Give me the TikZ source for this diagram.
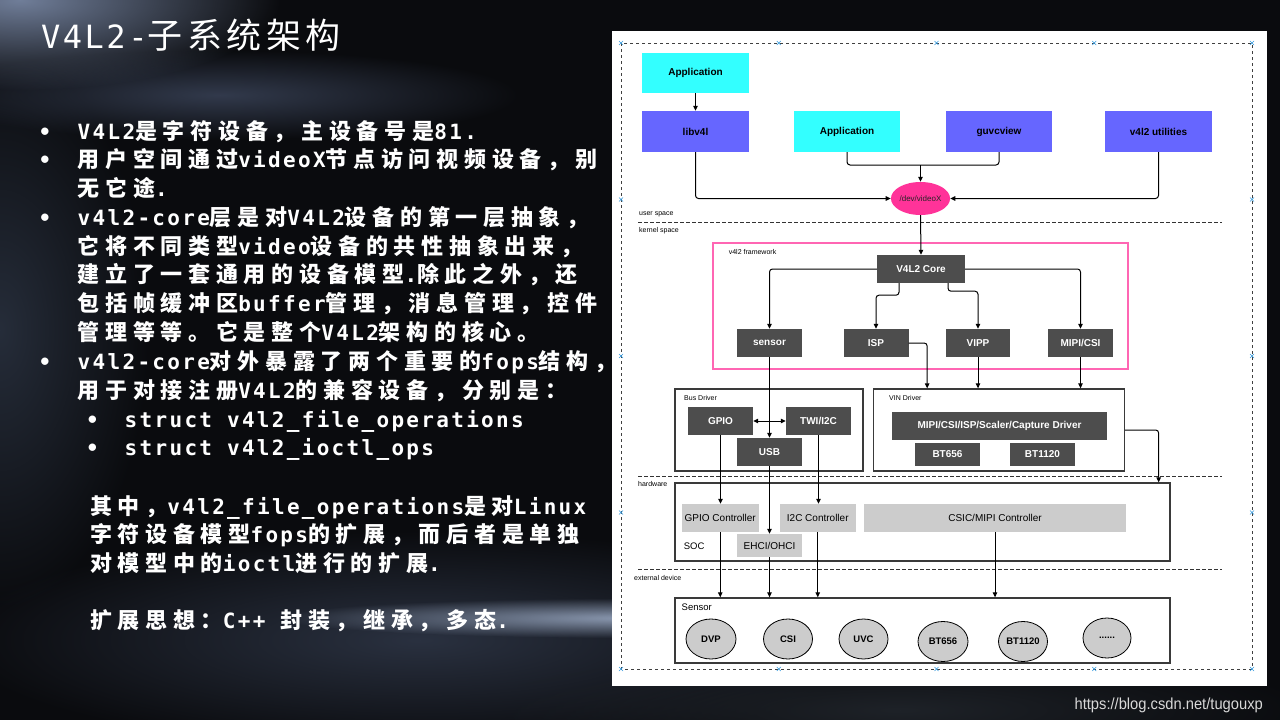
\documentclass[tikz,border=0pt]{standalone}
\usepackage{fontspec}
\setmainfont{Liberation Sans}
\newfontfamily\zhf{Noto Sans CJK SC}[LetterSpace=26]
\newfontfamily\tzh{Noto Sans CJK SC}[LetterSpace=13]
\newfontfamily\monof{DejaVu Sans Mono}[LetterSpace=11]
\newfontfamily\tmono{DejaVu Sans Mono}[LetterSpace=8]
\newfontfamily\urlf{Liberation Sans}[FakeStretch=0.92]
\usetikzlibrary{arrows.meta,shapes.geometric,fadings,calc}
\tikzfading[name=softfade, inner color=transparent!0, outer color=transparent!100]
\definecolor{bgc}{HTML}{0A0B0E}
\definecolor{cyanC}{HTML}{33FFFF}
\definecolor{violetC}{HTML}{6666FF}
\definecolor{pinkE}{HTML}{FF3399}
\definecolor{frameC}{HTML}{FF66B3}
\definecolor{darkbox}{HTML}{4D4D4D}
\definecolor{ctrl}{HTML}{CCCCCC}
\definecolor{grpline}{HTML}{3A3A3A}
\definecolor{xblue}{HTML}{3399DD}
\newcommand\M[1]{{\monof\bfseries\fontsize{21}{26}\selectfont #1}}
\begin{document}
\begin{tikzpicture}[x=1pt,y=-1pt,
  lbl/.style={font=\fontsize{10}{12}\selectfont\bfseries, inner sep=0, align=center},
  ubox/.style={lbl, text=black},
  dbox/.style={lbl, fill=darkbox, text=white},
  cbox/.style={font=\fontsize{10}{12}\selectfont, fill=ctrl, text=black, inner sep=0},
  grp/.style={draw=grpline, line width=1.3pt, fill=white, inner sep=0},
  sm/.style={font=\fontsize{7}{8}\selectfont, anchor=west, inner sep=0, text=black},
  sellip/.style={ellipse, draw=black, line width=0.8pt, fill=ctrl, minimum width=49pt, minimum height=40pt, inner sep=0, font=\fontsize{9.5}{11}\selectfont\bfseries},
  conn/.style={draw=black, line width=1pt, -{Triangle[length=5pt,width=4.5pt]}, rounded corners=3pt},
  seg/.style={draw=black, line width=1pt, rounded corners=3pt},
  dline/.style={draw=black!80, line width=1pt, dash pattern=on 3.5pt off 2.5pt},
  txt/.style={anchor=base west, inner sep=0, text=white, font=\zhf\bfseries\fontsize{22}{26}\selectfont},
  bul/.style={anchor=base, inner sep=0, text=white, font=\monof\bfseries\fontsize{21}{26}\selectfont},
  xmk/.style={draw=xblue, line width=0.6pt}
]
\useasboundingbox (0,0) rectangle (1280,720);
% ---------- background ----------
\fill[bgc] (0,0) rectangle (1280,720);
\fill[color={rgb,255:red,38;green,45;blue,58}, path fading=softfade] (0,330) ellipse [x radius=150pt, y radius=280pt];
\fill[color={rgb,255:red,42;green,49;blue,64}, path fading=softfade] (420,640) ellipse [x radius=470pt, y radius=110pt];
\fill[color={rgb,255:red,50;green,58;blue,76}, path fading=softfade] (220,95) ellipse [x radius=300pt, y radius=45pt];
\fill[color={rgb,255:red,112;green,126;blue,153}, path fading=softfade] (20,0) ellipse [x radius=260pt, y radius=90pt];
\fill[color={rgb,255:red,141;green,155;blue,179}, path fading=softfade] (640,618) ellipse [x radius=360pt, y radius=20pt];
\fill[color={rgb,255:red,30;green,34;blue,40}, path fading=softfade] (900,710) ellipse [x radius=420pt, y radius=60pt];
% ---------- title ----------
\node[anchor=base west, inner sep=0, text=white] (title) at (40.8,48)
  {{\tmono\fontsize{32}{36}\selectfont V4L2-}{\tzh\fontsize{35}{38}\selectfont 子系统架构}};
% ---------- bullets and text ----------
\node[bul] (b1) at (45,139.5) {•};
\node[bul] (b2) at (45,167.5) {•};
\node[bul] (b4) at (45,225.5) {•};
\node[bul] (b9) at (45,369) {•};
\node[bul] (b11) at (92.5,427) {•};
\node[bul] (b12) at (92.5,455.5) {•};
\node[txt] (t1) at (77.5,139.5) {\M{V4L2}是字符设备，主设备号是\M{81.}};
\node[txt] (t2) at (77.5,167.5) {用户空间通过\M{videoX}节点访问视频设备，别};
\node[txt] (t3) at (77.5,196) {无它途\M{.}};
\node[txt] (t4) at (77.5,225.5) {\M{v4l2-core}层是对\M{V4L2}设备的第一层抽象，};
\node[txt] (t5) at (77.5,254) {它将不同类型\M{video}设备的共性抽象出来，};
\node[txt] (t6) at (77.5,282.5) {建立了一套通用的设备模型\M{.}除此之外，还};
\node[txt] (t7) at (77.5,311) {包括帧缓冲区\M{buffer}管理，消息管理，控件};
\node[txt] (t8) at (77.5,340) {管理等等。它是整个\M{V4L2}架构的核心。};
\node[txt] (t9) at (77.5,369) {\M{v4l2-core}对外暴露了两个重要的\M{fops}结构，};
\node[txt] (t10) at (77.5,398) {用于对接注册\M{V4L2}的兼容设备，分别是：};
\node[txt] (t11) at (124.5,427) {\M{struct v4l2\_file\_operations}};
\node[txt] (t12) at (124.5,455.5) {\M{struct v4l2\_ioctl\_ops}};
\node[txt] (t14) at (89.8,514) {其中，\M{v4l2\_file\_operations}是对\M{Linux}};
\node[txt] (t15) at (89.8,542.5) {字符设备模型\M{fops}的扩展，而后者是单独};
\node[txt] (t16) at (89.8,571) {对模型中的\M{ioctl}进行的扩展\M{.}};
\node[txt] (t18) at (89.8,628) {扩展思想：\M{C++ }封装，继承，多态\M{.}};
% ---------- url ----------
\node[anchor=base east, inner sep=0, text={rgb,255:red,216;green,216;blue,216}, font=\urlf\fontsize{16}{18}\selectfont] (url) at (1263,709) {https://blog.csdn.net/tugouxp};
% ---------- panel ----------
\fill[white] (612,31) rectangle (1267,686);
\draw[draw=black!75, line width=0.8pt, dash pattern=on 3pt off 3pt] (621,43) rectangle (1252,669);
\foreach \xx in {621,778.75,936.5,1094.25,1252} {
  \draw[xmk] (\xx-2,41) -- (\xx+2,45) (\xx-2,45) -- (\xx+2,41);
  \draw[xmk] (\xx-2,667) -- (\xx+2,671) (\xx-2,671) -- (\xx+2,667);
}
\foreach \yy in {199.5,356,512.5} {
  \draw[xmk] (619,\yy-2) -- (623,\yy+2) (619,\yy+2) -- (623,\yy-2);
  \draw[xmk] (1250,\yy-2) -- (1254,\yy+2) (1250,\yy+2) -- (1254,\yy-2);
}
% group boxes
\node[draw=frameC, line width=1.2pt, minimum width=415pt, minimum height=126pt, inner sep=0] (frame) at (920.5,306) {};
\node[grp, minimum width=188pt, minimum height=82pt] (bus) at (769,430) {};
\node[grp, minimum width=251pt, minimum height=82pt] (vin) at (999,430) {};
\node[grp, minimum width=495pt, minimum height=78pt] (soc) at (922.5,522) {};
\node[grp, minimum width=495pt, minimum height=65pt] (sens) at (922.5,630.5) {};
% separators
\coordinate (us1) at (638,222); \coordinate (us2) at (1222,222);
\coordinate (hw1) at (638,476); \coordinate (hw2) at (1222,476);
\coordinate (ex1) at (638,569); \coordinate (ex2) at (1222,569);
\draw[dline] (us1) -- (us2);
\draw[dline] (hw1) -- (hw2);
\draw[dline] (ex1) -- (ex2);
% small labels
\node[sm] (luser) at (639,214) {user space};
\node[sm] (lkern) at (639,231) {kernel space};
\node[sm] (lfw) at (728.6,251.7) {v4l2 framework};
\node[sm] (lbus) at (684,397.5) {Bus Driver};
\node[sm] (lvin) at (889,397.5) {VIN Driver};
\node[sm] (lhw) at (638,484) {hardware};
\node[sm] (lext) at (634,578) {external device};
\node[sm, font=\fontsize{9.5}{11}\selectfont] (lsoc) at (683.6,546) {SOC};
\node[sm, font=\fontsize{9.5}{11}\selectfont] (lsens) at (681.5,607) {Sensor};
% user space boxes
\node[ubox, fill=cyanC, minimum width=107pt, minimum height=40pt] (app1) at (695.5,73) {Application};
\node[ubox, fill=violetC, minimum width=107pt, minimum height=41pt] (libv4l) at (695.5,131.5) {libv4l};
\node[ubox, fill=cyanC, minimum width=106pt, minimum height=41pt] (app2) at (847,131.5) {Application};
\node[ubox, fill=violetC, minimum width=106pt, minimum height=41pt] (guvc) at (999,131.5) {guvcview};
\node[ubox, fill=violetC, minimum width=107pt, minimum height=41pt] (utils) at (1158.5,131.5) {v4l2 utilities};
\node[ellipse, fill=pinkE, minimum width=57pt, minimum height=33pt, inner sep=0, font=\fontsize{8}{9}\selectfont, text=black!85] (dev) at (920.5,198.5) {/dev/videoX};
% v4l2 framework
\node[dbox, minimum width=88pt, minimum height=28pt] (core) at (921,269) {V4L2 Core};
\node[dbox, minimum width=65pt, minimum height=28pt] (sensor) at (769.5,343) {sensor};
\node[dbox, minimum width=65pt, minimum height=28pt] (isp) at (876,343) {ISP};
\node[dbox, minimum width=64pt, minimum height=28pt] (vipp) at (978,343) {VIPP};
\node[dbox, minimum width=65pt, minimum height=28pt] (mipi) at (1080.5,343) {MIPI/CSI};
% drivers
\node[dbox, minimum width=65pt, minimum height=28pt] (gpio) at (720.5,421) {GPIO};
\node[dbox, minimum width=65pt, minimum height=28pt] (twi) at (818.5,421) {TWI/I2C};
\node[dbox, minimum width=65pt, minimum height=28pt] (usb) at (769.5,452) {USB};
\node[dbox, minimum width=215pt, minimum height=28pt] (mcap) at (999.5,426) {MIPI/CSI/ISP/Scaler/Capture Driver};
\node[dbox, minimum width=65pt, minimum height=23pt] (bta) at (947.5,454.5) {BT656};
\node[dbox, minimum width=65pt, minimum height=23pt] (btb) at (1042.5,454.5) {BT1120};
% hardware
\node[cbox, minimum width=77.5pt, minimum height=28pt] (gpioc) at (720.25,518) {GPIO Controller};
\node[cbox, minimum width=76.5pt, minimum height=28pt] (i2cc) at (817.75,518) {I2C Controller};
\node[cbox, minimum width=262pt, minimum height=28pt] (csic) at (995,518) {CSIC/MIPI Controller};
\node[cbox, minimum width=65pt, minimum height=23pt] (ehci) at (769.5,545.5) {EHCI/OHCI};
% sensors
\node[sellip, minimum width=50pt] (dvp) at (711,639) {DVP};
\node[sellip] (csi) at (788,639) {CSI};
\node[sellip] (uvc) at (863.5,639) {UVC};
\node[sellip, minimum width=50pt] (s656) at (943,641.5) {BT656};
\node[sellip] (s1120) at (1023,641.5) {BT1120};
\node[sellip, minimum width=48pt] (sdots) at (1107,638) {......};
% ---------- connectors ----------
\coordinate (jn) at (920.5,165);
\draw[conn] (app1) -- (libv4l);
\draw[conn] (libv4l.south) |- (dev.west);
\draw[seg] (app2.south) |- (jn);
\draw[seg] (guvc.south) |- (jn);
\draw[conn] (jn) -- (dev.north);
\draw[conn] (utils.south) |- (dev.east);
\draw[conn] (dev.south) -- (core.north);
\draw[conn] (core.west) -| (sensor.north);
\draw[conn] ([xshift=-22pt]core.south) -- ++(0,12) -| (isp.north);
\draw[conn] ([xshift=27pt]core.south) -- ++(0,8) -| (vipp.north);
\draw[conn] (core.east) -| (mipi.north);
\draw[conn] (sensor.south) -- (usb.north);
\draw[conn] (isp.east) -| ([xshift=54.3pt]vin.north west);
\draw[conn] (vipp.south) -- (vipp.south |- vin.north);
\draw[conn] (mipi.south) -- (mipi.south |- vin.north);
\draw[draw=black, line width=1pt, {Triangle[length=5pt,width=4.5pt]}-{Triangle[length=5pt,width=4.5pt]}] (gpio.east) -- (twi.west);
\draw[conn] (gpio.south) -- (gpio.south |- gpioc.north);
\draw[conn] (twi.south) -- (twi.south |- i2cc.north);
\draw[conn] (usb.south) -- (ehci.north);
\draw[conn] (vin.east) -| ([xshift=-12pt]soc.north east);
\draw[conn] (gpioc.south) -- (gpioc.south |- sens.north);
\draw[conn] (ehci.south) -- (ehci.south |- sens.north);
\draw[conn] (i2cc.south) -- (i2cc.south |- sens.north);
\draw[conn] (csic.south) -- (csic.south |- sens.north);
\end{tikzpicture}
\end{document}
